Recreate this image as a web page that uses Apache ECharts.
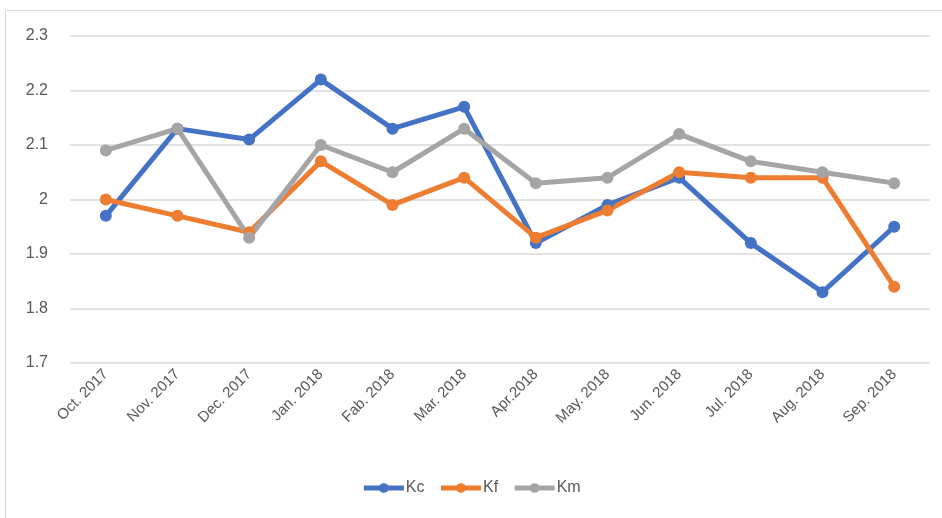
<!DOCTYPE html>
<html>
<head>
<meta charset="utf-8">
<script src="https://cdn.jsdelivr.net/npm/echarts@6/dist/echarts.min.js"></script>
<style>
  html, body { margin: 0; padding: 0; background: #fff; }
  #main { width: 942px; height: 518px; }
</style>
</head>
<body>
<div id="main"></div>
<script>
var months = ['Oct. 2017', 'Nov. 2017', 'Dec. 2017', 'Jan. 2018', 'Fab. 2018', 'Mar. 2018',
              'Apr.2018', 'May. 2018', 'Jun. 2018', 'Jul. 2018', 'Aug. 2018', 'Sep. 2018'];
var kc = [1.97, 2.13, 2.11, 2.22, 2.13, 2.17, 1.92, 1.99, 2.04, 1.92, 1.83, 1.95];
var kf = [2.00, 1.97, 1.94, 2.07, 1.99, 2.04, 1.93, 1.98, 2.05, 2.04, 2.04, 1.84];
var km = [2.09, 2.13, 1.93, 2.10, 2.05, 2.13, 2.03, 2.04, 2.12, 2.07, 2.05, 2.03];

var fontName = '"Liberation Sans Narrow", "Liberation Sans", sans-serif';

function makeSeries(name, data, color) {
    return {
        name: name,
        type: 'line',
        data: data,
        symbol: 'circle',
        symbolSize: 12,
        lineStyle: { width: 5, color: color },
        itemStyle: { color: color },
        emphasis: { disabled: true }
    };
}

var myChart = echarts.init(document.getElementById('main'));
myChart.setOption({
    animation: false,
    textStyle: { fontFamily: fontName },
    graphic: [
        {
            type: 'rect',
            shape: { x: 5.5, y: 10.5, width: 960, height: 540 },
            style: { fill: 'none', stroke: '#d9d9d9', lineWidth: 1 }
        }
    ],
    legend: {
        data: ['Kc', 'Kf', 'Km'],
        bottom: 17,
        left: 'center',
        itemWidth: 40,
        itemHeight: 12,
        itemGap: 14,
        lineStyle: { width: 5 },
        textStyle: { color: '#595959', fontSize: 16, fontFamily: fontName, padding: [0, 0, 0, -3] }
    },
    grid: {
        left: 70,
        right: 12,
        top: 36,
        bottom: 155
    },
    xAxis: {
        type: 'category',
        data: months,
        boundaryGap: true,
        axisLine: { show: false },
        axisTick: { show: false },
        axisLabel: {
            rotate: 45,
            color: '#595959',
            fontSize: 15,
            fontFamily: fontName,
            margin: 9,
            interval: 0
        }
    },
    yAxis: {
        type: 'value',
        min: 1.7,
        max: 2.3,
        interval: 0.1,
        axisLine: { show: false },
        axisTick: { show: false },
        axisLabel: {
            color: '#595959',
            fontSize: 16,
            fontFamily: fontName,
            margin: 22
        },
        splitLine: { lineStyle: { color: '#d9d9d9', width: 1.5 } }
    },
    series: [
        makeSeries('Kc', kc, '#4472C4'),
        makeSeries('Kf', kf, '#ED7D31'),
        makeSeries('Km', km, '#A5A5A5')
    ]
});
</script>
</body>
</html>
